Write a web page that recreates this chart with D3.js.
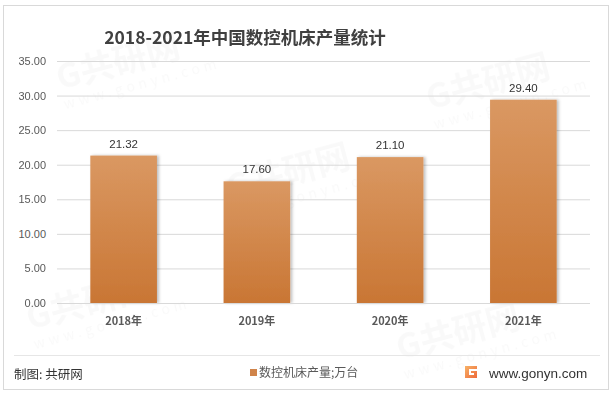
<!DOCTYPE html>
<html>
<head>
<meta charset="utf-8">
<script src="https://cdn.jsdelivr.net/npm/d3@7"></script>
<style>
  body { margin: 0; background: #fff; }
  svg { display: block; font-family: "Liberation Sans", "Noto Sans CJK SC", sans-serif; }
</style>
</head>
<body>
<div id="chart"></div>
<script>
var years = ['2018年', '2019年', '2020年', '2021年'];
var output = [21.32, 17.60, 21.10, 29.40];
var yTicks = [0, 5, 10, 15, 20, 25, 30, 35];

var W = 613, H = 393;
var plot = {left: 57, right: 590, top: 61, bottom: 303};

var svg = d3.select('#chart').append('svg')
    .attr('width', W)
    .attr('height', H);

var defs = svg.append('defs');
var grad = defs.append('linearGradient')
    .attr('id', 'barGrad')
    .attr('x1', 0).attr('y1', 0).attr('x2', 0).attr('y2', 1);
grad.append('stop').attr('offset', '0%').attr('stop-color', '#da9862');
grad.append('stop').attr('offset', '100%').attr('stop-color', '#c97634');

var shadow = defs.append('filter').attr('id', 'shadow')
    .attr('x', '-20%').attr('y', '-10%').attr('width', '140%').attr('height', '120%');
shadow.append('feDropShadow')
    .attr('dx', 2).attr('dy', 0).attr('stdDeviation', 1.5)
    .attr('flood-color', '#000').attr('flood-opacity', 0.25);

// outer frame
svg.append('rect')
    .attr('x', 3.5).attr('y', 5.5)
    .attr('width', 605).attr('height', 384)
    .attr('fill', 'none')
    .attr('stroke', '#d9d9d9');

// faint watermarks (kept inside the frame)
var wm = svg.append('g').attr('fill', '#000').attr('opacity', 0.025)
    .attr('font-family', '"Noto Sans CJK SC", sans-serif').attr('font-weight', 'bold');
[[60, 90], [230, 200], [430, 110], [30, 330], [400, 360]].forEach(function(p){
    var g = wm.append('g').attr('transform', 'translate(' + p[0] + ',' + p[1] + ') rotate(-15)');
    g.append('text').attr('font-size', 34).text('G共研网');
    g.append('text').attr('y', 20).attr('font-size', 14).attr('font-weight', 'normal')
        .attr('letter-spacing', 4).text('www.gonyn.com');
});

var x = d3.scaleBand()
    .domain(years)
    .range([plot.left, plot.right])
    .paddingInner(0.5)
    .paddingOuter(0.25);

var y = d3.scaleLinear()
    .domain([0, 35])
    .range([plot.bottom, plot.top]);

// title
svg.append('text')
    .attr('x', 245).attr('y', 44)
    .attr('text-anchor', 'middle')
    .attr('font-family', '"Noto Sans CJK SC", sans-serif')
    .attr('font-size', 17.5)
    .attr('font-weight', 'bold')
    .attr('fill', '#404040')
    .text('2018-2021年中国数控机床产量统计');

// grid + y labels
var yAxis = d3.axisLeft(y)
    .tickValues(yTicks)
    .tickSize(-(plot.right - plot.left))
    .tickPadding(11)
    .tickFormat(d3.format('.2f'));

var gy = svg.append('g')
    .attr('transform', 'translate(' + plot.left + ',0)')
    .call(yAxis);
gy.select('.domain').remove();
gy.selectAll('.tick line').attr('stroke', '#d9d9d9');
gy.selectAll('.tick text')
    .attr('fill', '#595959')
    .attr('font-size', 11)
    .attr('font-family', '"Liberation Sans Narrow", "Liberation Sans", sans-serif');

// bars
svg.append('g').selectAll('rect')
    .data(output)
    .enter().append('rect')
    .attr('x', (d, i) => x(years[i]))
    .attr('y', d => y(d))
    .attr('width', x.bandwidth())
    .attr('height', d => y(0) - y(d))
    .attr('fill', 'url(#barGrad)')
    .attr('filter', 'url(#shadow)');

// baseline
svg.append('line')
    .attr('x1', plot.left).attr('x2', plot.right)
    .attr('y1', y(0) + 0.5).attr('y2', y(0) + 0.5)
    .attr('stroke', '#d9d9d9');

// value labels
svg.append('g').selectAll('text')
    .data(output)
    .enter().append('text')
    .attr('x', (d, i) => x(years[i]) + x.bandwidth() / 2)
    .attr('y', d => y(d) - 8)
    .attr('text-anchor', 'middle')
    .attr('font-size', 11.5)
    .attr('fill', '#333')
    .text(d => d.toFixed(2));

// x labels
var xAxis = d3.axisBottom(x).tickSize(0).tickPadding(14);
var gx = svg.append('g')
    .attr('transform', 'translate(0,' + plot.bottom + ')')
    .call(xAxis);
gx.select('.domain').remove();
gx.selectAll('.tick text')
    .attr('fill', '#595959')
    .attr('font-size', 11)
    .attr('font-weight', 'bold')
    .attr('font-family', '"Noto Sans CJK SC", sans-serif');

// footer separator
svg.append('line')
    .attr('x1', 14).attr('x2', 600)
    .attr('y1', 355.5).attr('y2', 355.5)
    .attr('stroke', '#e6e6e6');

svg.append('text')
    .attr('x', 14).attr('y', 379)
    .attr('font-family', '"Noto Sans CJK SC", sans-serif')
    .attr('font-size', 12.5)
    .attr('fill', '#333')
    .text('制图: 共研网');

// legend
var lg = svg.append('g').attr('transform', 'translate(250,369)');
lg.append('rect').attr('width', 7).attr('height', 7).attr('fill', '#d0844a');
lg.append('text')
    .attr('x', 9).attr('y', 8)
    .attr('font-family', '"Noto Sans CJK SC", sans-serif')
    .attr('font-size', 12)
    .attr('fill', '#595959')
    .text('数控机床产量;万台');

// logo
var logoGrad = defs.append('linearGradient').attr('id', 'logoGrad')
    .attr('x1', 0).attr('y1', 0).attr('x2', 1).attr('y2', 1);
logoGrad.append('stop').attr('offset', '0%').attr('stop-color', '#f7b267');
logoGrad.append('stop').attr('offset', '100%').attr('stop-color', '#ee6a3a');
var logo = svg.append('g').attr('transform', 'translate(465,366)');
logo.append('path')
    .attr('d', 'M0,0 H12 V3 H4 V9 H9 V7 H6 V5 H12 V12 H0 Z')
    .attr('fill', 'url(#logoGrad)');

svg.append('text')
    .attr('x', 489).attr('y', 378)
    .attr('font-size', 13.5)
    .attr('fill', '#333')
    .text('www.gonyn.com');
</script>
</body>
</html>
